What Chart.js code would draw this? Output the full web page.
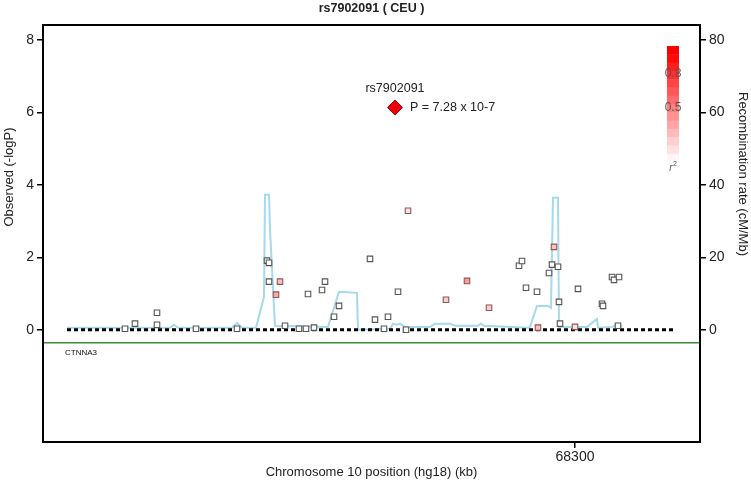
<!DOCTYPE html>
<html>
<head>
<meta charset="utf-8">
<script src="https://cdn.jsdelivr.net/npm/chart.js@4.4.1/dist/chart.umd.min.js"></script>
<style>
  html, body { margin: 0; padding: 0; background: #fff; }
  #wrap { width: 751px; height: 481px; }
</style>
</head>
<body>
<div id="wrap"><canvas id="chart" width="751" height="481"></canvas></div>
<script>
// SNP positions (kb, chr10 hg18), -log10(P) and r2 with the lead SNP
const snpPosKb = [67850, 67860, 67882, 67882, 67921, 67962, 67992, 67994, 67994, 68005,
  68001, 68010, 68024, 68031, 68039, 68033, 68047, 68050, 68059, 68064,
  68095, 68100, 68113, 68109, 68123, 68131, 68133, 68171, 68192, 68214,
  68244, 68247, 68251, 68262, 68263, 68274, 68277, 68283, 68279, 68284,
  68285, 68300, 68303, 68327, 68328, 68337, 68339, 68344, 68343];
const snpLogP = [0.03, 0.17, 0.47, 0.14, 0.03, 0.03, 1.91, 1.85, 1.33, 1.33,
  0.97, 0.11, 0.03, 0.03, 0.06, 0.99, 1.10, 1.33, 0.36, 0.66,
  1.96, 0.28, 0.36, 0.03, 1.05, 0.00, 3.29, 0.83, 1.35, 0.61,
  1.77, 1.90, 1.16, 1.05, 0.06, 1.57, 1.80, 1.74, 2.29, 0.77,
  0.17, 0.08, 1.13, 0.72, 0.66, 1.46, 1.38, 1.46, 0.11];
const snpR2 = [0, 0, 0, 0, 0, 0, 0, 0, 0, 0.25,
  0.35, 0, 0, 0, 0, 0, 0, 0, 0, 0,
  0, 0, 0, 0, 0, 0, 0.12, 0.2, 0.4, 0.2,
  0, 0, 0, 0, 0.25, 0, 0, 0, 0.25, 0,
  0, 0.12, 0, 0, 0, 0, 0, 0, 0];

const leadSnpName = 'rs7902091';
const leadSnpPosKb = [68120];
const leadSnpLogP = [6.14];
const leadSnpLabel = 'P = 7.28 x 10-7';

// recombination rate (cM/Mb)
const recombPosKb = [67792, 67895, 67899, 67903, 67957, 67962, 67967, 67981, 67989, 67990,
  67994, 67995, 68000, 68053, 68064, 68082, 68083, 68115, 68118, 68122,
  68125, 68130, 68155, 68160, 68175, 68180, 68203, 68206, 68209, 68253,
  68255, 68262, 68273, 68276, 68278, 68283, 68284, 68312, 68322, 68323,
  68338, 68342, 68347];
const recombRate = [0.55, 0.55, 1.4, 0.55, 0.55, 1.9, 0.55, 0.55, 9.1, 37.3,
  37.3, 27.6, 1.1, 0.8, 10.5, 10.2, 0, 0.3, 1.7, 1.4,
  1.7, 0.8, 0.8, 1.7, 1.7, 1.1, 1.1, 1.7, 1.1, 0.55,
  0.8, 6.6, 6.6, 6.1, 36.5, 36.5, 0.8, 0.8, 3.0, 0.55,
  0.8, 1.7, 0.8];

const baselineKb = [67792, 68398];
const baselineVal = [0, 0];
const geneName = 'CTNNA3';
const geneKb = [67768, 68425];
const geneVal = [-0.36, -0.36];

const xRange = [67768, 68425];
const xTicks = [68300];
const leftRange = [-3.1, 8.42];
const leftTicks = [0, 2, 4, 6, 8];
const rightRange = [-31, 84.2];
const rightTicks = [0, 20, 40, 60, 80];
const legendTicks = [0.8, 0.5];

const FONT = "'Liberation Sans', Arial, sans-serif";

function r2Color(r2) {
  const c = Math.round(255 * (1 - r2));
  return `rgb(255, ${c}, ${c})`;
}

function toXY(xs, ys) {
  return xs.map((x, i) => ({ x, y: ys[i] }));
}

const decorations = {
  id: 'decorations',
  afterDraw(chart) {
    const { ctx, chartArea: a, scales } = chart;
    ctx.save();

    // frame
    ctx.strokeStyle = '#000';
    ctx.lineWidth = 2;
    ctx.strokeRect(a.left, a.top, a.right - a.left, a.bottom - a.top);

    ctx.fillStyle = '#222';
    ctx.textAlign = 'center';
    ctx.textBaseline = 'middle';

    ctx.font = `bold 12.5px ${FONT}`;
    ctx.fillText('rs7902091 ( CEU )', (a.left + a.right) / 2, 9);

    ctx.font = `13px ${FONT}`;
    ctx.fillText('Chromosome 10 position (hg18) (kb)', (a.left + a.right) / 2, 472);

    ctx.save();
    ctx.translate(9, 177);
    ctx.rotate(-Math.PI / 2);
    ctx.fillText('Observed (-logP)', 0, 0);
    ctx.restore();

    ctx.save();
    ctx.translate(743, 174);
    ctx.rotate(Math.PI / 2);
    ctx.fillText('Recombination rate (cM/Mb)', 0, 0);
    ctx.restore();

    // lead SNP annotation
    const px = scales.x.getPixelForValue(leadSnpPosKb[0]);
    const py = scales.y.getPixelForValue(leadSnpLogP[0]);
    ctx.font = `12.5px ${FONT}`;
    ctx.fillText(leadSnpName, px, py - 19);
    ctx.textAlign = 'left';
    ctx.fillText(leadSnpLabel, px + 15, py);

    // gene label
    ctx.font = `8px ${FONT}`;
    ctx.fillStyle = '#111';
    ctx.fillText(geneName, scales.x.getPixelForValue(baselineKb[0]) - 2, scales.y.getPixelForValue(geneVal[0]) + 10);

    // r2 colour bar
    const bx = a.right - 33, bw = 12, btop = a.top + 21, bh = 116;
    const steps = 14;
    for (let i = 0; i < steps; i++) {
      const r2 = 1 - (i + 0.5) / steps;
      ctx.fillStyle = r2Color(Math.min(1, r2 * 1.08));
      ctx.fillRect(bx, btop + i * bh / steps, bw, bh / steps + 0.5);
    }
    ctx.fillStyle = '#555';
    ctx.textAlign = 'center';
    ctx.font = `12px ${FONT}`;
    legendTicks.forEach((t) => {
      ctx.fillText(String(t), bx + bw / 2, btop + (1 - t) * bh + 4);
    });
    ctx.font = `italic 10px ${FONT}`;
    ctx.fillText('r', bx + bw / 2 - 2, btop + bh + 6);
    ctx.font = `7px ${FONT}`;
    ctx.fillText('2', bx + bw / 2 + 2, btop + bh + 2);

    ctx.restore();
  },
};

const tickGrid = { drawOnChartArea: false, drawTicks: true, tickLength: 6, color: '#000', lineWidth: 1.5 };
const tickFont = { family: FONT, size: 14 };

new Chart(document.getElementById('chart'), {
  type: 'scatter',
  data: {
    datasets: [
      {
        label: 'lead',
        data: toXY(leadSnpPosKb, leadSnpLogP),
        pointStyle: 'rectRot',
        pointRadius: 7.5,
        backgroundColor: '#e8000b',
        borderColor: '#b00000',
        borderWidth: 1,
        order: 0,
      },
      {
        label: 'snps',
        data: toXY(snpPosKb, snpLogP),
        pointStyle: 'rect',
        pointRadius: 3.9,
        backgroundColor: snpR2.map(r2Color),
        borderColor: snpR2.map((r) => (r > 0 ? '#8a5a5a' : '#555')),
        borderWidth: 1.1,
        order: 1,
      },
      {
        label: 'baseline',
        type: 'line',
        data: toXY(baselineKb, baselineVal),
        borderColor: '#000',
        borderWidth: 3,
        borderDash: [4, 3],
        pointRadius: 0,
        order: 2,
      },
      {
        label: 'recomb',
        type: 'line',
        data: toXY(recombPosKb, recombRate),
        yAxisID: 'y2',
        borderColor: '#a6d9ea',
        borderWidth: 2,
        pointRadius: 0,
        tension: 0,
        order: 3,
      },
      {
        label: 'gene',
        type: 'line',
        data: toXY(geneKb, geneVal),
        borderColor: '#3c8c3c',
        borderWidth: 1.5,
        pointRadius: 0,
        order: 4,
      },
    ],
  },
  options: {
    responsive: false,
    animation: false,
    events: [],
    layout: { padding: { top: 25, left: 0, right: 0, bottom: 0 } },
    plugins: { legend: { display: false }, tooltip: { enabled: false }, title: { display: false } },
    scales: {
      x: {
        type: 'linear',
        min: xRange[0],
        max: xRange[1],
        afterBuildTicks: (s) => { s.ticks = xTicks.map((v) => ({ value: v })); },
        afterFit: (s) => { s.height = 39; },
        grid: tickGrid,
        border: { display: false },
        ticks: { font: tickFont, color: '#222', padding: 1, maxRotation: 0, callback: (v) => String(v) },
      },
      y: {
        position: 'left',
        min: leftRange[0],
        max: leftRange[1],
        afterBuildTicks: (s) => { s.ticks = leftTicks.map((v) => ({ value: v })); },
        afterFit: (s) => { s.width = 43; },
        grid: tickGrid,
        border: { display: false },
        ticks: { font: tickFont, color: '#222', padding: 3 },
      },
      y2: {
        position: 'right',
        min: rightRange[0],
        max: rightRange[1],
        afterBuildTicks: (s) => { s.ticks = rightTicks.map((v) => ({ value: v })); },
        afterFit: (s) => { s.width = 51; },
        grid: tickGrid,
        border: { display: false },
        ticks: { font: tickFont, color: '#222', padding: 3 },
      },
    },
  },
  plugins: [decorations],
});
</script>
</body>
</html>
